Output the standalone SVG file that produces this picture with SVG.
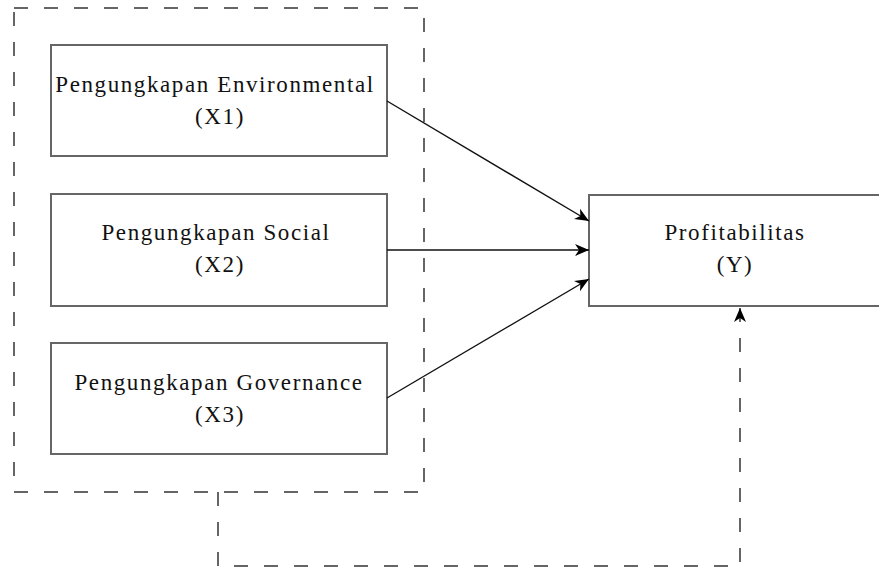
<svg xmlns="http://www.w3.org/2000/svg" width="879" height="568" viewBox="0 0 879 568">
  <style>
    .box { fill: #fff; stroke: #666; stroke-width: 2; }
    .lbl { font-family: "Liberation Serif", "Times New Roman", serif; font-size: 23px; fill: #111; text-anchor: middle; letter-spacing: 1.6px; }
    .edge { fill: none; stroke: #111; stroke-width: 1.4; }
    .dash { fill: none; stroke: #333; stroke-width: 1.5; stroke-dasharray: 14 16; }
  </style>
  <defs>
    <marker id="arrow" markerUnits="userSpaceOnUse" markerWidth="15" markerHeight="13" refX="14" refY="6.5" orient="auto">
      <path d="M0,0.5 L14,6.5 L0,12.5 L4,6.5 Z" fill="#000"/>
    </marker>
  </defs>
  <rect width="879" height="568" fill="#fff"/>
  <g id="group-x">
    <rect x="14" y="8" width="410" height="484" class="dash"/>
  </g>
  <g id="x1">
    <rect x="51" y="45" width="336" height="111" class="box"/>
    <text x="215" y="92" class="lbl">Pengungkapan Environmental</text>
    <text x="220" y="124" class="lbl">(X1)</text>
  </g>
  <g id="x2">
    <rect x="51" y="194" width="336" height="112" class="box"/>
    <text x="216" y="240" class="lbl">Pengungkapan Social</text>
    <text x="220" y="272" class="lbl">(X2)</text>
  </g>
  <g id="x3">
    <rect x="51" y="343" width="336" height="111" class="box"/>
    <text x="219" y="390" class="lbl">Pengungkapan Governance</text>
    <text x="220" y="422" class="lbl">(X3)</text>
  </g>
  <g id="y">
    <rect x="589" y="195" width="295" height="111" class="box"/>
    <text x="735" y="240" class="lbl">Profitabilitas</text>
    <text x="735" y="272" class="lbl">(Y)</text>
  </g>
  <g id="connectors">
    <line x1="387" y1="101" x2="589" y2="221" class="edge" marker-end="url(#arrow)"/>
    <line x1="387" y1="250" x2="589" y2="250" class="edge" marker-end="url(#arrow)"/>
    <line x1="387" y1="398" x2="589" y2="279" class="edge" marker-end="url(#arrow)"/>
    <polyline points="218,492 218,566 740,566 740,308" class="dash" marker-end="url(#arrow)"/>
  </g>
</svg>
